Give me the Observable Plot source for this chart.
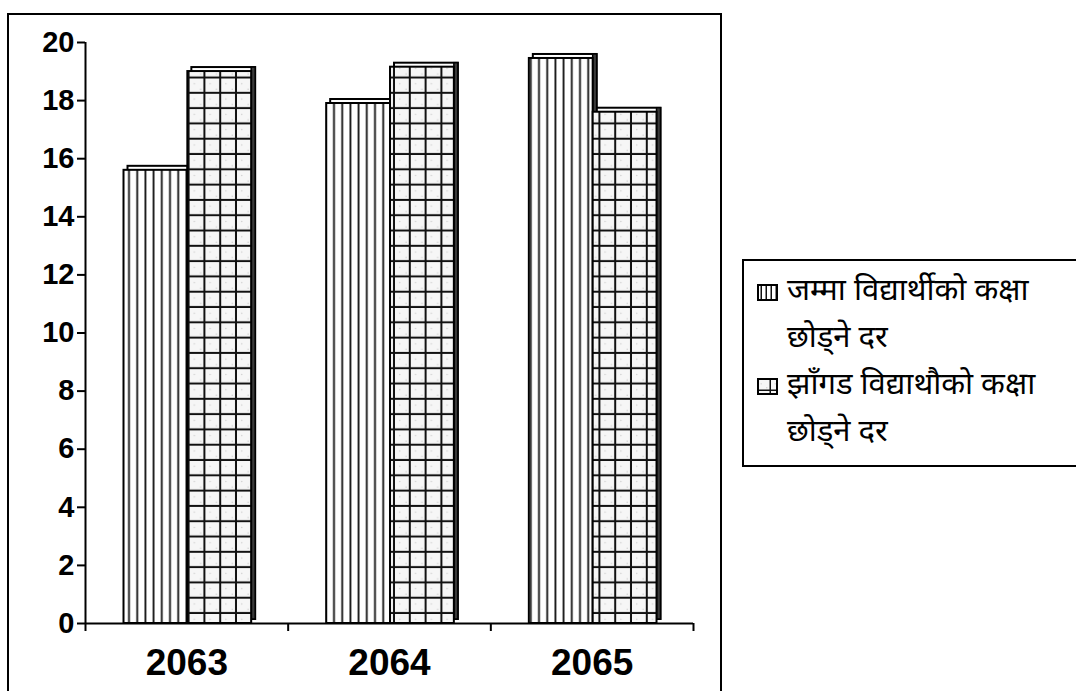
<!DOCTYPE html>
<html>
<head>
<meta charset="utf-8">
<script src="https://cdn.jsdelivr.net/npm/d3@7"></script>
<script src="https://cdn.jsdelivr.net/npm/@observablehq/plot@0.6"></script>
<style>
  html, body { margin: 0; padding: 0; background: #fff; overflow: hidden; width: 1076px; height: 691px; }
  #wrap { position: relative; width: 1076px; height: 691px; overflow: hidden; }
  #frame { position: absolute; left: 7px; top: 13px; width: 715px; height: 720px; border: 2px solid #000; box-sizing: border-box; }
  #chart { position: absolute; left: 0; top: 0; }
  #chart svg [aria-label$="axis tick"] { stroke-width: 2px; }
  #legend { position: absolute; left: 742px; top: 259px; width: 380px; border: 2px solid #000; box-sizing: border-box;
            padding: 8px 0 8px 0; font-family: "Noto Sans Devanagari", "Lohit Devanagari", Mangal, "Noto Sans", sans-serif;
            font-size: 31px; color: #000; background: #fff; }
  .entry { position: relative; padding-left: 43px; }
  .entry .line { height: 47px; line-height: 47px; white-space: nowrap; }
  .entry svg { position: absolute; left: 13px; top: 15px; }
</style>
</head>
<body>
<div id="wrap">
  <div id="frame"></div>
  <div id="chart"></div>
  <div id="legend"></div>
</div>
<script>
// ---- data ----
const years = ["2063", "2064", "2065"];
const totalDropoutRate = [15.6, 17.9, 19.45];     // जम्मा विद्यार्थीको कक्षा छोड्ने दर
const jhangadDropoutRate = [19.0, 19.15, 17.6];   // झाँगड विद्याथौको कक्षा छोड्ने दर
const yTicks = [0, 2, 4, 6, 8, 10, 12, 14, 16, 18, 20];
const legendLines = [
  ["जम्मा विद्यार्थीको कक्षा", "छोड्ने दर"],
  ["झाँगड विद्याथौको कक्षा", "छोड्ने दर"]
];
const patterns = ["url(#vstripe)", "url(#grid)"];
const swatchPatterns = ["url(#vstripeS)", "url(#gridS)"];

// ---- table for the library ----
const seriesValues = [totalDropoutRate, jhangadDropoutRate];
const barEdges = [[0.19, 0.505], [0.505, 0.82]];
const rows = years.flatMap((yr, i) => seriesValues.map((vals, s) => ({
  year: yr, s, v: vals[i], x1: i + barEdges[s][0], x2: i + barEdges[s][1]
})));
const s0 = rows.filter(d => d.s === 0);
const s1 = rows.filter(d => d.s === 1);
const depth = 4;

const svg = Plot.plot({
  width: 722,
  height: 691,
  marginLeft: 85,
  marginRight: 29,
  marginTop: 42,
  marginBottom: 68,
  x: { domain: [0, 3], ticks: [0, 1, 2, 3], tickFormat: () => "", tickSize: 8, label: null },
  y: { domain: [0, 20], ticks: yTicks, tickSize: 8, tickPadding: 3, label: null },
  style: { fontFamily: "'Liberation Sans', Arial, sans-serif", fontSize: "29px", fontWeight: "bold", color: "#000", background: "transparent", overflow: "visible" },
  marks: [
    Plot.ruleY([0], { x1: 0, x2: 3, stroke: "#000", strokeWidth: 2 }),
    Plot.ruleX([0], { y1: 0, y2: 20, stroke: "#000", strokeWidth: 2 }),
    // 3D back faces (top strips)
    Plot.rect(rows, { x1: "x1", x2: "x2", y1: 0, y2: "v", dx: depth, dy: -depth, fill: "#fff", stroke: "#000", strokeWidth: 2 }),
    // side faces
    Plot.rect(rows, { x1: "x2", x2: "x2", y1: 0, y2: "v", insetRight: -depth, dy: -depth, fill: "#3a3a3a", stroke: "#000", strokeWidth: 1.5 }),
    // front faces
    Plot.rect(s0, { x1: "x1", x2: "x2", y1: 0, y2: "v", fill: patterns[0], stroke: "#000", strokeWidth: 2 }),
    Plot.rect(s1, { x1: "x1", x2: "x2", y1: 0, y2: "v", fill: patterns[1], stroke: "#000", strokeWidth: 2 }),
    Plot.text(years, { x: (d, i) => i + 0.5, y: 0, dy: 40, fontSize: 37, fontWeight: "bold", fill: "#000" })
  ]
});

const defs = d3.select(svg).insert("defs", ":first-child");
function stripe(id, w, h, lw) {
  const p = defs.append("pattern").attr("id", id).attr("patternUnits", "userSpaceOnUse")
    .attr("width", w).attr("height", h).attr("x", 1);
  p.append("rect").attr("width", w).attr("height", h).attr("fill", "#fff");
  p.append("rect").attr("x", w / 2).attr("width", lw).attr("height", h).attr("fill", "#111");
}
function grid(id, w, h, lw) {
  const p = defs.append("pattern").attr("id", id).attr("patternUnits", "userSpaceOnUse")
    .attr("width", w).attr("height", h).attr("x", 0).attr("y", 2);
  p.append("rect").attr("width", w).attr("height", h).attr("fill", "#f6f6f6");
  p.append("circle").attr("cx", w * 0.3).attr("cy", h * 0.35).attr("r", 0.7).attr("fill", "#ccc");
  p.append("circle").attr("cx", w * 0.7).attr("cy", h * 0.7).attr("r", 0.7).attr("fill", "#ccc");
  p.append("rect").attr("x", w - lw).attr("width", lw).attr("height", h).attr("fill", "#111");
  p.append("rect").attr("y", h - lw).attr("width", w).attr("height", lw).attr("fill", "#111");
}
stripe("vstripe", 8.2, 10, 1.8);
grid("grid", 15.8, 15.3, 2);
stripe("vstripeS", 5, 10, 1.5);
grid("gridS", 14, 11, 1.5);

document.getElementById("chart").appendChild(svg);

// legend
const legend = d3.select("#legend");
legendLines.forEach((lines, k) => {
  const e = legend.append("div").attr("class", "entry");
  const sw = e.append("svg").attr("width", 21).attr("height", 17);
  sw.append("rect").attr("x", 1).attr("y", 1).attr("width", 19).attr("height", 15)
    .attr("fill", swatchPatterns[k]).attr("stroke", "#000").attr("stroke-width", 2);
  lines.forEach(t => e.append("div").attr("class", "line").text(t));
});
</script>
</body>
</html>
